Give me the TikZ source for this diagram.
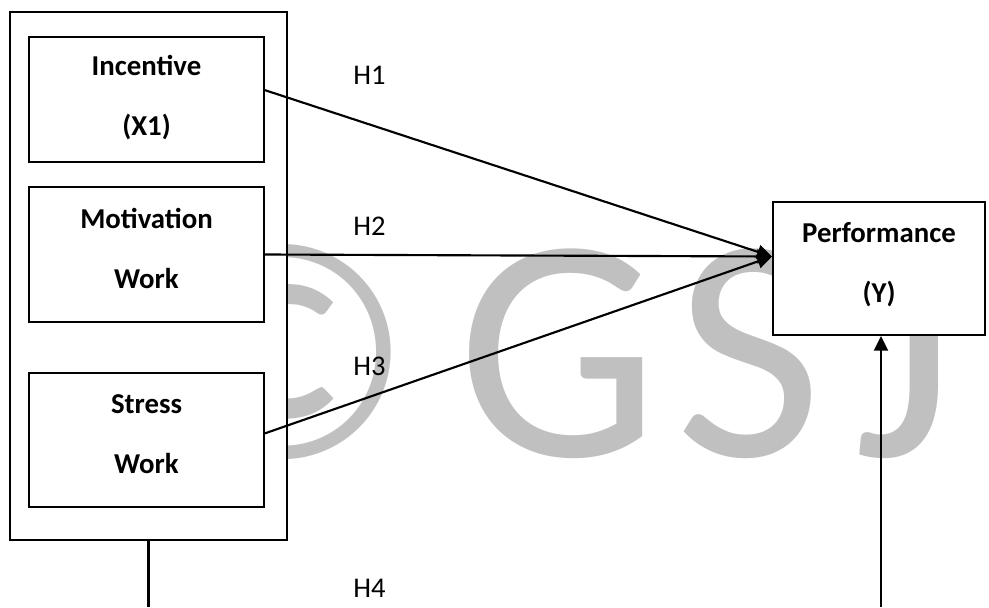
\documentclass[tikz,border=0pt]{standalone}
\usepackage{fontspec}
\setmainfont{Carlito}
\usetikzlibrary{arrows.meta}
\definecolor{wmgray}{RGB}{192,192,192}
\begin{document}
\begin{tikzpicture}[x=0.75pt,y=-0.75pt,
  box/.style={draw, line width=1.5pt, fill=white, inner sep=0pt, align=center,
    text depth=9pt, font=\fontsize{21.6}{45}\selectfont\bfseries},
  hyp/.style={font=\fontsize{21.4}{25}\selectfont, anchor=west, inner sep=0pt},
  wm/.style={text=wmgray, font=\fontsize{240}{240}\selectfont, anchor=base, inner sep=0pt},
  conn/.style={line width=1.6pt},
  arr/.style={conn, -{Triangle[length=11pt,width=10.5pt]}}]
\useasboundingbox (0,0) rectangle (989,607);
% watermark
\node[wm, anchor=center, font=\fontsize{234}{234}\selectfont] (wmC) at (284,352) {©};
\node[wm] (wmG) at (558,456) {G};
\node[wm] (wmS) at (749,456) {S};
\node[wm] (wmJ) at (906,456) {J};
% boxes
\node[box, minimum width=207.75pt, minimum height=396pt] (outer) at (148.5,276) {};
\node[box, text depth=5.5pt, minimum width=176.25pt, minimum height=93.75pt] (inc) at (146.5,99.5) {Incentive\\(X1)};
\node[box, minimum width=176.25pt, minimum height=101.25pt] (mot) at (146.5,254.5) {Motivation\\Work};
\node[box, minimum width=176.25pt, minimum height=100.5pt] (str) at (146.5,440) {Stress\\Work};
\node[box, minimum width=159pt, minimum height=99.75pt] (perf) at (879,268.5) {Performance\\(Y)};
% labels
\node[hyp] (h1) at (353,75.5) {H1};
\node[hyp] (h2) at (353,226) {H2};
\node[hyp] (h3) at (353,366) {H3};
\node[hyp] (h4) at (353,588) {H4};
% connectors
\coordinate (xbot) at (148.5,607);
\coordinate (ybot) at (881,607);
\draw[arr] ([yshift=7pt]inc.east) -- ([yshift=9pt]perf.west);
\draw[arr] (mot.east) -- ([yshift=9pt]perf.west);
\draw[arr] ([yshift=5pt]str.east) -- ([yshift=9pt]perf.west);
\draw[conn] (outer.south) -- (xbot);
\draw[arr] (ybot) -- (ybot |- perf.south);
\end{tikzpicture}
\end{document}
